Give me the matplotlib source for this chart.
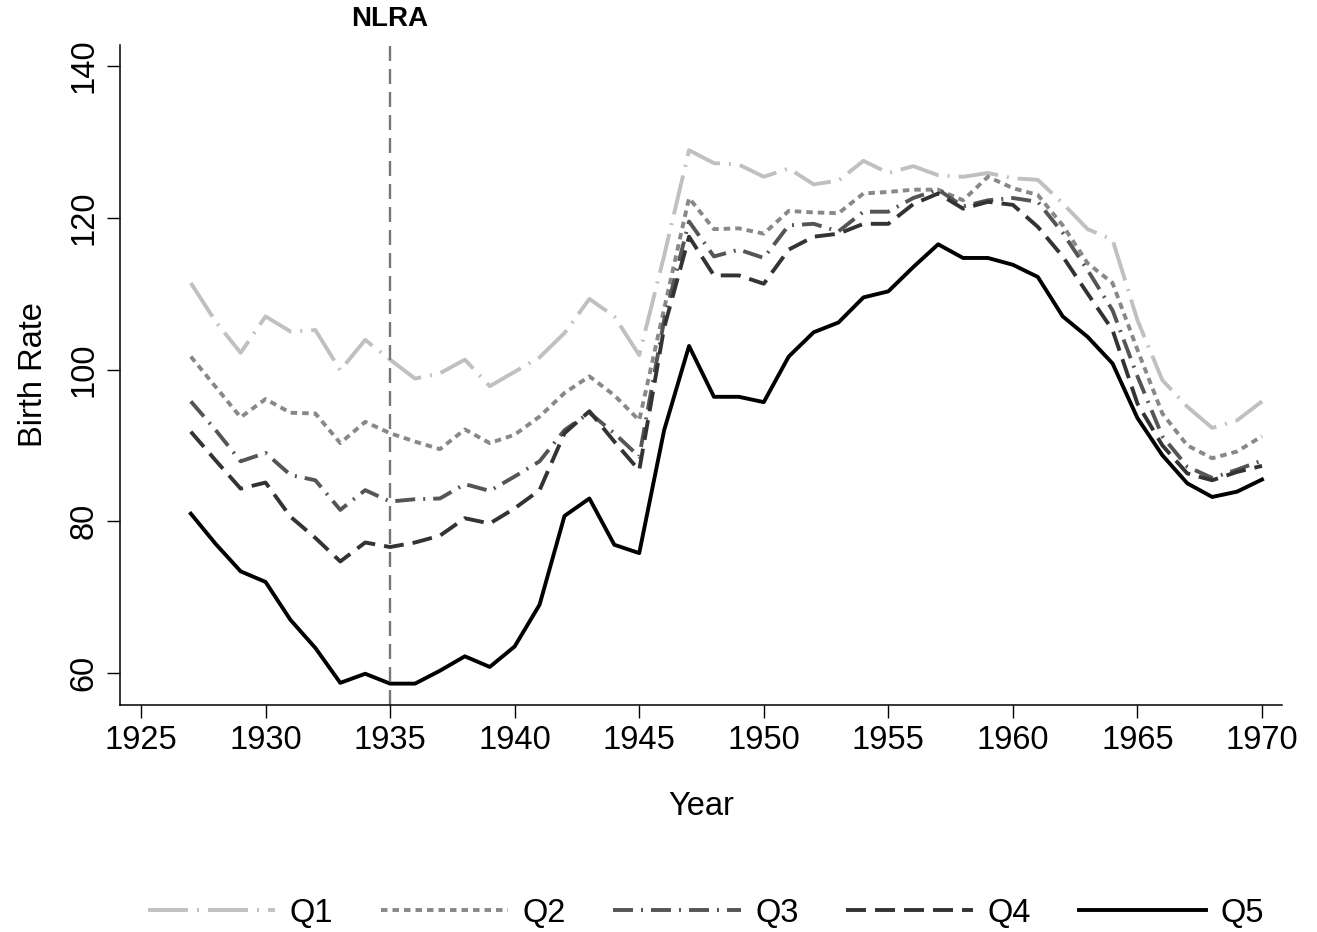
import matplotlib
matplotlib.use("Agg")
import matplotlib.pyplot as plt
import matplotlib.transforms as mtransforms

years = list(range(1927, 1971))

q1 = [111.4, 106.3, 102.2, 107.0, 105.0, 105.2, 99.9, 103.9, 101.3, 98.8,
      99.5, 101.3, 97.8, 99.7, 101.6, 104.8, 109.3, 107.0, 101.9, 115.0,
      128.9, 127.2, 127.0, 125.4, 126.5, 124.4, 124.9, 127.5, 125.9, 126.8,
      125.6, 125.4, 125.9, 125.2, 125.0, 121.9, 118.5, 117.1, 106.5, 98.6,
      95.1, 92.3, 93.3, 95.8]
q2 = [101.7, 97.7, 93.7, 96.1, 94.3, 94.2, 90.3, 93.1, 91.6, 90.5,
      89.5, 92.1, 90.3, 91.4, 93.8, 96.9, 99.1, 96.6, 93.3, 108.0,
      122.6, 118.5, 118.6, 117.9, 120.9, 120.7, 120.6, 123.2, 123.4, 123.7,
      123.7, 122.3, 125.4, 123.9, 123.0, 119.0, 114.0, 111.4, 102.6, 94.2,
      90.0, 88.3, 89.2, 91.2]
q3 = [95.8, 92.0, 87.9, 89.0, 86.1, 85.4, 81.5, 84.1, 82.6, 82.9,
      83.0, 84.9, 84.0, 85.9, 87.9, 92.0, 94.3, 91.6, 88.5, 106.5,
      119.5, 114.9, 115.8, 114.7, 119.0, 119.2, 118.2, 120.8, 120.8, 122.6,
      123.7, 121.5, 122.3, 122.6, 122.1, 118.0, 113.1, 107.8, 99.1, 91.2,
      87.2, 85.7, 86.8, 88.0]
q4 = [91.8, 88.0, 84.3, 85.1, 80.6, 77.8, 74.7, 77.2, 76.6, 77.2,
      78.1, 80.4, 79.7, 81.7, 84.1, 91.6, 94.5, 90.5, 86.7, 105.5,
      117.5, 112.4, 112.4, 111.3, 115.8, 117.5, 117.9, 119.2, 119.2, 121.8,
      123.2, 121.2, 122.1, 121.7, 118.8, 114.9, 110.0, 105.2, 95.5, 90.0,
      86.3, 85.4, 86.5, 87.3]
q5 = [81.0, 77.0, 73.4, 72.0, 67.0, 63.3, 58.7, 59.9, 58.6, 58.6,
      60.3, 62.2, 60.8, 63.5, 69.0, 80.7, 83.0, 76.9, 75.8, 92.0,
      103.1, 96.4, 96.4, 95.7, 101.7, 104.9, 106.2, 109.5, 110.3, 113.5,
      116.5, 114.7, 114.7, 113.8, 112.2, 107.0, 104.3, 100.8, 93.6, 88.7,
      85.0, 83.2, 83.9, 85.5]

series = [("Q1", q1), ("Q2", q2), ("Q3", q3), ("Q4", q4), ("Q5", q5)]
xticks = [1925, 1930, 1935, 1940, 1945, 1950, 1955, 1960, 1965, 1970]
yticks = [60, 80, 100, 120, 140]
event_year = 1935
event_label = "NLRA"

plt.rcParams['font.family'] = ['Liberation Sans', 'DejaVu Sans']
plt.rcParams['lines.scale_dashes'] = False

px = 0.72  # points per pixel at 100 dpi
styles = {
    "Q1": dict(color="#c0c0c0", dashes=[40 * px, 9 * px, 2 * px, 9 * px]),
    "Q2": dict(color="#888888", dashes=[6.5 * px, 5 * px]),
    "Q3": dict(color="#555555", dashes=[20 * px, 8 * px, 2 * px, 8 * px]),
    "Q4": dict(color="#333333", dashes=[20 * px, 9 * px]),
    "Q5": dict(color="#000000", linestyle="-"),
}

fig = plt.figure(figsize=(13.17, 9.32), dpi=100)
ax = fig.add_axes([120 / 1317, 1 - 705 / 932, (1282 - 120) / 1317, (705 - 45) / 932])

for name, vals in series:
    st = styles[name]
    ax.plot(years, vals, linewidth=2.8, label=name, dash_capstyle='butt', **st)

ax.axvline(event_year, color="#777777", linewidth=1.7, dashes=[15 * px, 8 * px])
trans = mtransforms.blended_transform_factory(ax.transData, ax.transAxes)
ax.text(event_year, 1.0 + 13 / 660, event_label, transform=trans, ha='center', va='bottom',
        fontsize=20, fontweight='bold')

ax.set_xlim(1925 - 21 / 24.92, 1970 + 20 / 24.92)
ax.set_ylim(60 - 32 / 7.5875, 140 + 21 / 7.5875)
ax.set_xticks(xticks)
ax.set_yticks(yticks)
ax.tick_params(axis='both', direction='out', length=9.5, width=1.0, labelsize=23.5, pad=5)
for lab in ax.get_yticklabels():
    lab.set_rotation(90)
    lab.set_va('center')
for sp in ['top', 'right']:
    ax.spines[sp].set_visible(False)
for sp in ['left', 'bottom']:
    ax.spines[sp].set_linewidth(1.1)

ax.set_xlabel("Year", fontsize=23.5, labelpad=25)
ax.set_ylabel("Birth Rate", fontsize=23.5, labelpad=14)

fig.legend(loc='center', bbox_to_anchor=(706 / 1317, 1 - 913 / 932), ncol=5, frameon=False,
           fontsize=23.5, handlelength=3.9, columnspacing=1.45, handletextpad=0.45)

fig.savefig("out.png", dpi=100)
